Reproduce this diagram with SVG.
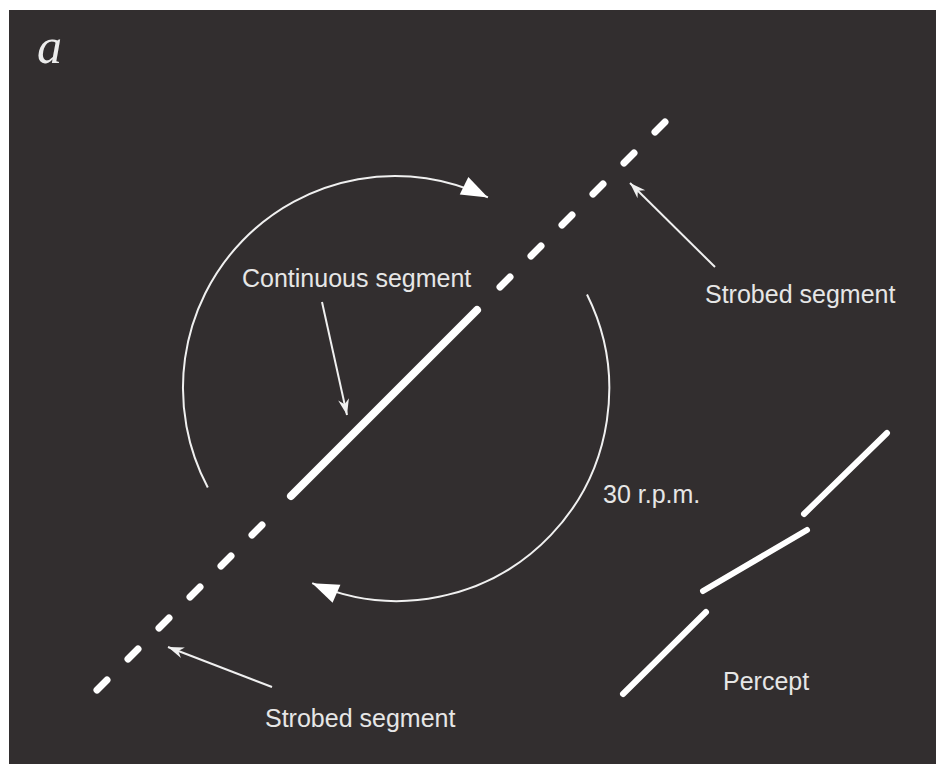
<svg xmlns="http://www.w3.org/2000/svg" width="936" height="764" viewBox="0 0 936 764">
  <style>
    .lbl { font-family: "Liberation Sans", Arial, sans-serif; font-size: 25px; fill: #e6e6e6; }
    .bar { stroke: #ffffff; stroke-linecap: round; fill: none; }
    .thin { stroke: #f0f0f0; stroke-width: 2; fill: none; }
  </style>
  <defs>
    <marker id="arcHead" markerUnits="userSpaceOnUse" markerWidth="30" markerHeight="30" viewBox="-24 -12 26 24" refX="0" refY="0" orient="auto">
      <path d="M0,0 L-23,-8.5 L-23,8.5 Z" fill="#ffffff"/>
    </marker>
    <marker id="ptrHead" markerUnits="userSpaceOnUse" markerWidth="24" markerHeight="16" viewBox="-18 -8 20 16" refX="0" refY="0" orient="auto">
      <path d="M0,0 L-16,-5.5 L-11,0 L-16,5.5 Z" fill="#f0f0f0"/>
    </marker>
  </defs>
  <rect x="0" y="0" width="936" height="764" fill="#ffffff"/>
  <rect x="9" y="10" width="927" height="754" fill="#322e2f"/>

  <text x="37" y="63" font-family="'Liberation Serif', 'Times New Roman', serif" font-style="italic" font-size="50" fill="#ececec">a</text>

  <g id="strobed-line">
    <g class="bar" stroke-width="7">
      <line x1="97" y1="690" x2="107" y2="680"/>
      <line x1="128" y1="659" x2="138" y2="649"/>
      <line x1="159" y1="628" x2="169" y2="618"/>
      <line x1="190" y1="597" x2="200" y2="587"/>
      <line x1="221" y1="566" x2="231" y2="556"/>
      <line x1="252" y1="535" x2="262" y2="525"/>
      <line x1="500" y1="287" x2="510" y2="277"/>
      <line x1="531" y1="256" x2="541" y2="246"/>
      <line x1="562" y1="225" x2="572" y2="215"/>
      <line x1="593" y1="194" x2="603" y2="184"/>
      <line x1="624" y1="163" x2="634" y2="153"/>
      <line x1="655" y1="132" x2="665" y2="122"/>
    </g>
  </g>

  <g id="continuous-segment">
    <line class="bar" stroke-width="8" x1="291" y1="496" x2="477" y2="310"/>
  </g>

  <g id="rotation">
    <path class="thin" d="M207.8,487.5 A212,212 0 0 1 487.9,197.4" marker-end="url(#arcHead)"/>
    <path class="thin" d="M587,294.5 A212,212 0 0 1 312.2,583.2" marker-end="url(#arcHead)"/>
    <text class="lbl" x="603" y="503" font-size="24">30 r.p.m.</text>
  </g>

  <g id="connectors">
    <line class="thin" x1="322" y1="302" x2="347" y2="415" marker-end="url(#ptrHead)"/>
    <line class="thin" x1="715" y1="267" x2="630" y2="183" marker-end="url(#ptrHead)"/>
    <line class="thin" x1="272" y1="687" x2="168" y2="647" marker-end="url(#ptrHead)"/>
  </g>

  <g id="label-continuous">
    <text class="lbl" x="242" y="287">Continuous segment</text>
  </g>
  <g id="label-strobed-upper">
    <text class="lbl" x="705" y="303">Strobed segment</text>
  </g>
  <g id="label-strobed-lower">
    <text class="lbl" x="265" y="727">Strobed segment</text>
  </g>

  <g id="percept">
    <g class="bar" stroke-width="6">
      <line x1="804" y1="514" x2="887" y2="433"/>
      <line x1="703" y1="591" x2="807" y2="530"/>
      <line x1="623" y1="694" x2="706" y2="612"/>
    </g>
    <text class="lbl" x="723" y="690">Percept</text>
  </g>
</svg>
